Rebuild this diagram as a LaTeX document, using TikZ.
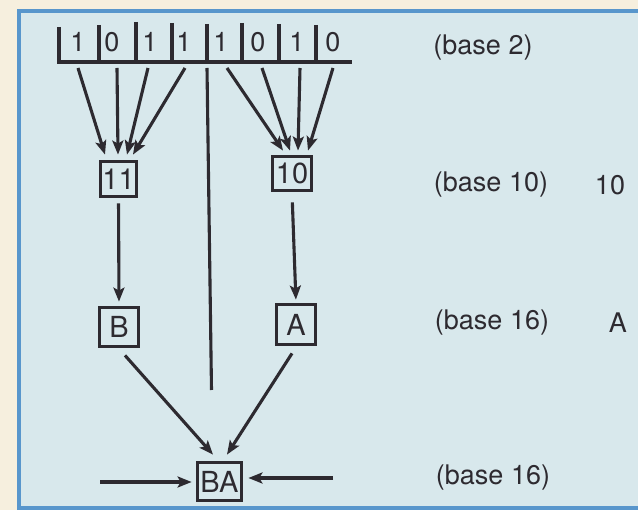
\documentclass[tikz,border=0pt]{standalone}
\usepackage{fontspec}
\setmainfont{TeX Gyre Heros}
\usetikzlibrary{arrows.meta,calc}
\definecolor{cream}{RGB}{246,239,222}
\definecolor{panel}{RGB}{216,232,236}
\definecolor{frameblue}{RGB}{88,150,204}
\definecolor{ink}{RGB}{45,42,48}
\tikzset{
  reg/.style={ink, line width=3.3pt},
  conn/.style={ink, line width=3.1pt},
  arr/.style={conn, -{Stealth[length=14pt,width=11pt,inset=3pt]}},
  digit/.style={ink, font=\fontsize{27}{27}\selectfont, inner sep=0pt},
  numbox/.style={draw=ink, line width=3.8pt, fill=panel, text=ink, inner sep=0pt, font=\fontsize{29}{29}\selectfont},
  lbl/.style={ink, font=\fontsize{27}{27}\selectfont, inner sep=0pt},
}
\begin{document}
\begin{tikzpicture}[x=1pt,y=-1pt]
\useasboundingbox (0,0) rectangle (638,510);
\fill[cream] (0,0) rectangle (638,510);
\draw[frameblue, line width=3.2pt, fill=panel] (19,11) rectangle (660,508);

% register
\foreach \x/\t in {59/27,99/25,136/22,172/23,207/24,242/23,279/24,316/25}
  \draw[reg] (\x,\t) -- (\x,62);
\draw[reg] (57.4,62) -- (352,62);
\foreach \i/\x/\d in {1/78/1,2/112/0,3/150/1,4/184/1,5/221/1,6/258/0,7/297/1,8/333/0}
  \node[digit] (d\i) at (\x,42) {\d};

% boxes
\node[numbox, minimum width=36pt, minimum height=35pt] (b11) at (118.5,179) {11};
\node[numbox, minimum width=39pt, minimum height=34pt] (b10) at (292,173.5) {10};
\node[numbox, minimum width=39pt, minimum height=39pt] (bB) at (119,327) {B};
\node[numbox, minimum width=39pt, minimum height=40pt] (bA) at (296,324.5) {A};
\node[numbox, minimum width=44pt, minimum height=38pt] (bBA) at (219.5,481.5) {BA};

% labels
\node[lbl] (l2) at (483,48) {(base 2)};
\node[lbl] (l10) at (491,185) {(base 10)};
\node[lbl] (v10) at (610,185) {10};
\node[lbl] (l16a) at (492,323) {(base 16)};
\node[lbl] (vA) at (618,323) {A};
\node[lbl] (l16b) at (493,478) {(base 16)};

% fan-in to 11
\foreach \i/\sx in {1/78,2/117,3/148,4/185}
  \coordinate (s\i) at (\sx,68);
\foreach \i/\tx in {1/-13.5,2/-0.5,3/8.5,4/14.5}
  \coordinate (t\i) at ($(b11.north)+(\tx,-5)$);
\foreach \i in {1,2,3,4} \draw[arr] (s\i) -- (t\i);

% fan-in to 10
\foreach \i/\sx in {5/227,6/262,7/300,8/333}
  \coordinate (s\i) at (\sx,68);
\foreach \i/\tx in {5/-9,6/-2,7/6,8/16}
  \coordinate (t\i) at ($(b10.north)+(\tx,-4)$);
\foreach \i in {5,6,7,8} \draw[arr] (s\i) -- (t\i);

% long vertical line
\coordinate (vtop) at (207,68);
\coordinate (vbot) at (211.5,390);
\draw[conn] (vtop) -- (vbot);

% box to box
\draw[arr, shorten <=5pt, shorten >=4pt] (b11.south) -- (bB.north);
\draw[arr, shorten <=10pt, shorten >=3pt] (b10.south) -- (bA.north);
\coordinate (bBo) at ($(bB.south)+(6,7)$);
\coordinate (bAo) at ($(bA.south)+(-4,7)$);
\coordinate (ba1) at ($(bBA.north)+(-6.5,-6)$);
\coordinate (ba2) at ($(bBA.north)+(7.5,-6)$);
\draw[arr] (bBo) -- (ba1);
\draw[arr] (bAo) -- (ba2);

% side inputs
\coordinate (lin) at (100,482);
\coordinate (rin) at (333,478);
\draw[arr, shorten >=4pt] (lin) -- (bBA.west |- lin);
\draw[arr, shorten >=5pt] (rin) -- (bBA.east |- rin);
\end{tikzpicture}
\end{document}
